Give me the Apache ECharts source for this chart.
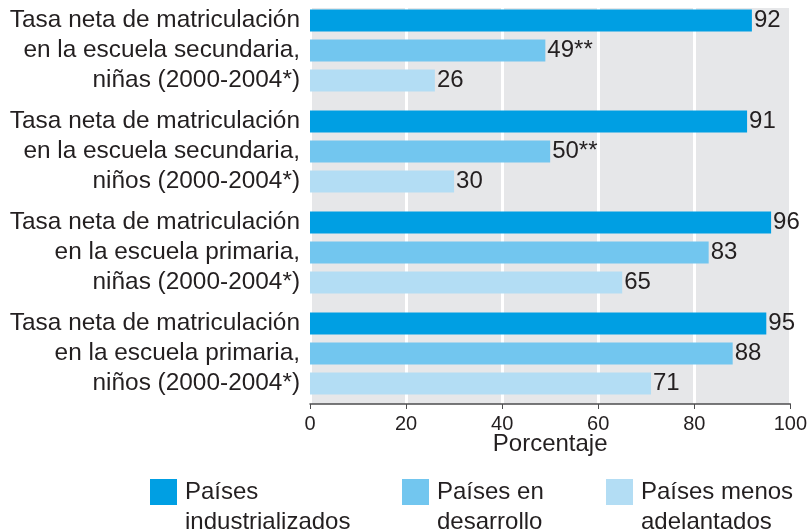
<!DOCTYPE html>
<html>
<head>
<meta charset="utf-8">
<script src="https://cdn.jsdelivr.net/npm/echarts@6/dist/echarts.min.js"></script>
<style>
html,body{margin:0;padding:0;background:#fff;}
#main{width:810px;height:531px;}
</style>
</head>
<body>
<div id="main"></div>
<script>
var categories = [
  "Tasa neta de matriculación\nen la escuela secundaria,\nniñas (2000-2004*)",
  "Tasa neta de matriculación\nen la escuela secundaria,\nniños (2000-2004*)",
  "Tasa neta de matriculación\nen la escuela primaria,\nniñas (2000-2004*)",
  "Tasa neta de matriculación\nen la escuela primaria,\nniños (2000-2004*)"
];
var seriesNames = ["Países\nindustrializados", "Países en\ndesarrollo", "Países menos\nadelantados"];
var industrializados = [92, 91, 96, 95];
var enDesarrollo = [49, 50, 83, 88];
var menosAdelantados = [26, 30, 65, 71];
var enDesarrolloNotes = ["**", "**", "", ""];
var xTicks = [0, 20, 40, 60, 80, 100];

var colors = ["#009fe3", "#72c6ef", "#b3ddf4"];
var font = "Liberation Sans, Arial, sans-serif";
var textColor = "#231f20";

function makeSeries(name, data, color, notes) {
  return {
    name: name,
    type: "bar",
    data: data,
    barWidth: 22,
    barGap: "36.4%",
    itemStyle: { color: color },
    label: {
      show: true,
      position: "right",
      distance: 2,
      fontFamily: font,
      fontSize: 24,
      color: textColor,
      formatter: function (p) {
        return p.value + (notes ? notes[p.dataIndex] : "");
      }
    }
  };
}

function makeLegend(i, left) {
  return {
    data: [{ name: seriesNames[i], icon: "rect" }],
    left: left,
    top: 447,
    padding: 0,
    itemWidth: 27,
    itemHeight: 26,
    itemGap: 0,
    selectedMode: false,
    formatter: function (name) { return "\n" + name; },
    textStyle: {
      fontFamily: font,
      fontSize: 24,
      lineHeight: 30,
      color: textColor,
      padding: [0, 0, 0, 3]
    }
  };
}

var chart = echarts.init(document.getElementById("main"), null, { renderer: "canvas" });
chart.setOption({
  animation: false,
  backgroundColor: "#ffffff",
  graphic: [{
    type: "rect",
    z: -10,
    silent: true,
    shape: { x: 310, y: 8, width: 482, height: 396 },
    style: { fill: "#e6e7e9" }
  }],
  grid: { left: 310, right: 18, top: 0, bottom: 127, containLabel: false },
  legend: [makeLegend(0, 150), makeLegend(1, 402), makeLegend(2, 606)],
  xAxis: {
    type: "value",
    min: 0,
    max: 100,
    interval: 20,
    name: "Porcentaje",
    nameLocation: "middle",
    nameGap: 28,
    nameMoveOverlap: false,
    nameTextStyle: { fontFamily: font, fontSize: 24, color: textColor },
    axisLine: { show: true, lineStyle: { color: "#4d4d4f", width: 1.5 } },
    axisTick: { show: true, length: 5, lineStyle: { color: "#4d4d4f", width: 1 } },
    axisLabel: {
      fontFamily: font, fontSize: 20, color: textColor, margin: 10,
      formatter: function (v) { return xTicks.indexOf(v) >= 0 ? String(v) : ""; }
    },
    splitLine: { show: true, lineStyle: { color: "#ffffff", width: 3 } }
  },
  yAxis: {
    type: "category",
    data: categories,
    inverse: true,
    axisLine: { show: false },
    axisTick: { show: false },
    splitLine: { show: false },
    axisLabel: {
      fontFamily: font, fontSize: 24.4, lineHeight: 30, color: textColor,
      margin: 10, align: "right"
    }
  },
  series: [
    makeSeries(seriesNames[0], industrializados, colors[0], null),
    makeSeries(seriesNames[1], enDesarrollo, colors[1], enDesarrolloNotes),
    makeSeries(seriesNames[2], menosAdelantados, colors[2], null)
  ]
});
</script>
</body>
</html>
